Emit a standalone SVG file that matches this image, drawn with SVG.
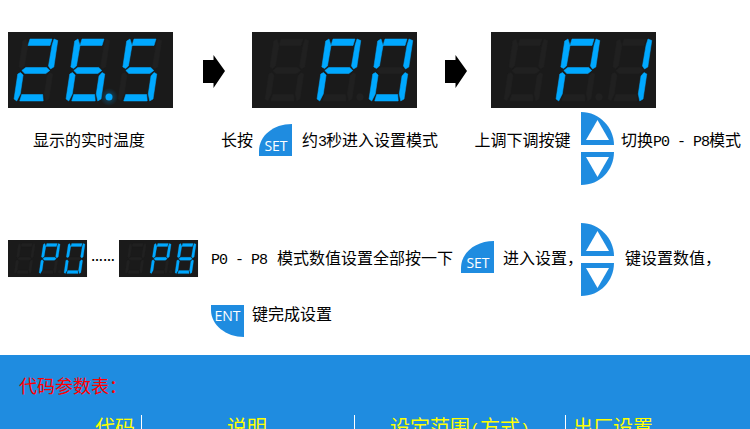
<svg xmlns="http://www.w3.org/2000/svg" width="750" height="429" viewBox="0 0 750 429">
<style>
text{font-family:"Noto Sans CJK SC","Liberation Sans",sans-serif;font-size:16px;fill:#000}
.m{font-family:"Liberation Mono",monospace;font-size:15px;letter-spacing:-1px}
.dots{font-family:"Liberation Sans",sans-serif;font-size:12px;font-weight:700}
.bg{fill:#1a1a1a}
.off{fill:#202020;stroke:#202020;stroke-width:.5;stroke-linejoin:round}
.on{fill:#00a8ff;stroke:#00a8ff;stroke-width:.5;stroke-linejoin:round}
.key{fill:#1f8ce0}
.tri{fill:#fff}
.lbl{font-family:"Open Sans","Noto Sans",sans-serif;font-size:14px;fill:#fff;text-anchor:middle}
.red{fill:#f00;font-size:18px}
.hd{fill:#ff0;font-size:20px}
.hdm{font-family:"Liberation Mono",monospace;font-size:16.67px}
.rule{stroke:#fff;stroke-width:1}
</style>
<defs>
<polygon id="a" points="7,0 29,0 28,6.500 6,6.500"/>
<polygon id="b" points="31,0 35,1.500 35,28 32,30 29.500,27 30,6"/>
<polygon id="c" points="32,33.500 35,35 35,60 32,62 29.500,55 29.500,37"/>
<polygon id="d" points="7,55.500 28,55.500 29.500,62 6,62"/>
<polygon id="e" points="0,35 2.500,33.500 5.500,36 5.500,55 3,62 0,60"/>
<polygon id="f" points="0,2 3,0 6,6.500 5.500,27 3,29.500 0,28"/>
<polygon id="g" points="3.500,31.500 7,28.500 28,28.500 31.500,31.500 28,34.500 7,34.500"/>
<g id="d8"><use href="#a"/><use href="#b"/><use href="#c"/><use href="#d"/><use href="#e"/><use href="#f"/><use href="#g"/></g>
<g id="d2"><use href="#a"/><use href="#b"/><use href="#d"/><use href="#e"/><use href="#g"/></g>
<g id="d6"><use href="#a"/><use href="#c"/><use href="#d"/><use href="#e"/><use href="#f"/><use href="#g"/></g>
<g id="d5"><use href="#a"/><use href="#c"/><use href="#d"/><use href="#f"/><use href="#g"/></g>
<g id="dP"><use href="#a"/><use href="#b"/><use href="#e"/><use href="#f"/><use href="#g"/></g>
<g id="d0"><use href="#a"/><use href="#b"/><use href="#c"/><use href="#d"/><use href="#e"/><use href="#f"/></g>
<g id="d1"><use href="#b"/><use href="#c"/></g>
<g id="offP">
<rect class="bg" width="165" height="76"/>
<g class="off">
<use href="#d8" transform="translate(22,7) skewX(-8.5)"/>
<use href="#d8" transform="translate(74,7) skewX(-8.5)"/>
<use href="#d8" transform="translate(126,7) skewX(-8.5)"/>
<circle cx="108" cy="65" r="3.500"/>
</g>
</g>
<g id="dispP0"><use href="#offP"/><g class="on"><use href="#dP" transform="translate(74,7) skewX(-8.5)"/><use href="#d0" transform="translate(126,7) skewX(-8.5)"/></g></g>
<g id="dispP8"><use href="#offP"/><g class="on"><use href="#dP" transform="translate(74,7) skewX(-8.5)"/><use href="#d8" transform="translate(126,7) skewX(-8.5)"/></g></g>
<path id="setKey" d="M259,156V151C259,136 273,124 292,124V156Z"/>
<path id="upKey" d="M581,112C600,112 614,128 614,145H581Z"/>
<path id="downKey" d="M581,152H614C614,170 600,185 581,185Z"/>
<radialGradient id="glow"><stop offset="0" stop-color="#00a8ff" stop-opacity=".35"/><stop offset="1" stop-color="#00a8ff" stop-opacity="0"/></radialGradient>
</defs>
<rect width="750" height="429" fill="#fff"/>

<g id="display-temp" transform="translate(8,32)">
<rect class="bg" width="165" height="76"/>
<g class="off">
<use href="#d8" transform="translate(15,7) skewX(-8.5)"/>
<use href="#d8" transform="translate(67,7) skewX(-8.5)"/>
<use href="#d8" transform="translate(119,7) skewX(-8.5)"/>
</g>
<g class="on">
<use href="#d2" transform="translate(15,7) skewX(-8.5)"/>
<use href="#d6" transform="translate(67,7) skewX(-8.5)"/>
<use href="#d5" transform="translate(119,7) skewX(-8.5)"/>
</g>
<circle cx="101" cy="65" r="9" fill="url(#glow)"/>
<circle cx="101" cy="65" r="3.500" fill="#00a8ff"/>
</g>
<use id="display-p0" href="#dispP0" transform="translate(252,32)"/>
<g id="display-p1" transform="translate(491,32)">
<use href="#offP"/>
<g class="on"><use href="#dP" transform="translate(74,7) skewX(-8.5)"/><use href="#d1" transform="translate(126,7) skewX(-8.5)"/></g>
</g>
<use id="display-p0-small" href="#dispP0" transform="translate(8,240) scale(.479,.487)"/>
<use id="display-p8-small" href="#dispP8" transform="translate(119,240) scale(.479,.487)"/>

<g id="connectors">
<polygon points="203,60 213.500,60 213.500,55 225,71 213.500,88 213.500,83 203,83" fill="#000"/>
<polygon points="445,60 455.500,60 455.500,55 467,71 455.500,88 455.500,83 445,83" fill="#000"/>
</g>

<g id="key-set-1"><use href="#setKey" class="key"/><text class="lbl" x="276" y="151">SET</text></g>
<g id="key-updown-1">
<use href="#upKey" class="key"/><polygon class="tri" points="597.500,120 609,140 586,140"/>
<use href="#downKey" class="key"/><polygon class="tri" points="586,157 609,157 597.500,177"/>
</g>
<g id="key-set-2"><use href="#setKey" class="key" transform="translate(202,117)"/><text class="lbl" x="478" y="268">SET</text></g>
<g id="key-updown-2" transform="translate(0,111)">
<use href="#upKey" class="key"/><polygon class="tri" points="597.500,120 609,140 586,140"/>
<use href="#downKey" class="key"/><polygon class="tri" points="586,157 609,157 597.500,177"/>
</g>
<g id="key-ent"><path class="key" d="M211,305H244V337C226,337 211,325 211,310Z"/><text class="lbl" x="227.500" y="321">ENT</text></g>

<g id="labels">
<text x="33" y="146">显示的实时温度</text>
<text x="221" y="146">长按</text>
<text x="302" y="146">约<tspan class="m">3</tspan>秒进入设置模式</text>
<text x="474.500" y="146">上调下调按键</text>
<text x="621" y="146">切换<tspan class="m" xml:space="preserve">P0 - P8</tspan>模式</text>
<text class="dots" x="91" y="261">……</text>
<text class="m" x="211" y="264" xml:space="preserve">P0 - P8</text>
<text x="277" y="264">模式数值设置全部按一下</text>
<text x="503" y="264">进入设置，</text>
<text x="625" y="264">键设置数值，</text>
<text x="252" y="320">键完成设置</text>
</g>

<g id="table">
<rect y="355" width="750" height="74" fill="#1f8ce0"/>
<text class="red" x="19" y="393">代码参数表：</text>
<line class="rule" x1="141.500" y1="415" x2="141.500" y2="429"/>
<line class="rule" x1="354.500" y1="415" x2="354.500" y2="429"/>
<line class="rule" x1="565.500" y1="415" x2="565.500" y2="429"/>
<text class="hd" x="95" y="435">代码</text>
<text class="hd" x="227" y="435">说明</text>
<text class="hd" x="390" y="435">设定范围<tspan class="hdm">(</tspan>方式<tspan class="hdm">)</tspan></text>
<text class="hd" x="573" y="435">出厂设置</text>
</g>
</svg>
